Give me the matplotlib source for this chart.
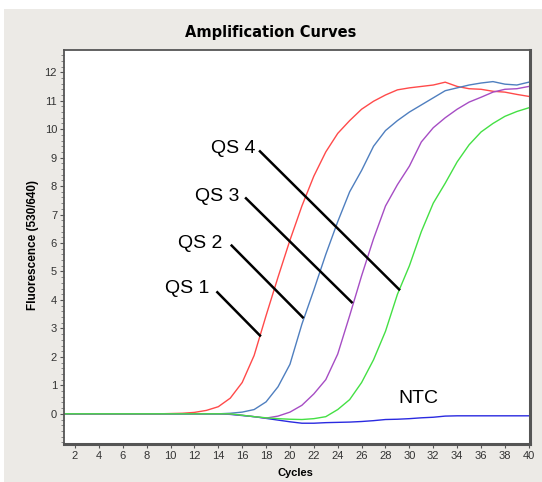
import numpy as np
import matplotlib
matplotlib.use("Agg")
import matplotlib.pyplot as plt
from matplotlib.patches import Rectangle

cycles = np.arange(1, 41)

qs1 = [0, 0, 0, 0, 0, 0, 0, 0, 0, 0.01, 0.02, 0.05, 0.12, 0.25, 0.55, 1.1, 2.05, 3.45, 4.8, 6.1,
       7.3, 8.35, 9.2, 9.85, 10.3, 10.7, 10.98, 11.2, 11.38, 11.45, 11.5, 11.55, 11.65, 11.5, 11.42,
       11.4, 11.33, 11.3, 11.22, 11.15]
qs2 = [0, 0, 0, 0, 0, 0, 0, 0, 0, 0, 0, 0, 0, 0, 0.02, 0.06, 0.15, 0.42, 0.95, 1.74,
       3.15, 4.35, 5.6, 6.75, 7.8, 8.55, 9.4, 9.95, 10.3, 10.6, 10.85, 11.1, 11.35, 11.45, 11.55,
       11.62, 11.67, 11.58, 11.55, 11.65]
qs3 = [0, 0, 0, 0, 0, 0, 0, 0, 0, 0, 0, 0, 0, 0, -0.01, -0.05, -0.1, -0.15, -0.08, 0.06,
       0.3, 0.7, 1.2, 2.1, 3.45, 4.85, 6.15, 7.3, 8.05, 8.7, 9.55, 10.05, 10.4, 10.7, 10.95,
       11.12, 11.3, 11.4, 11.42, 11.5]
qs4 = [0, 0, 0, 0, 0, 0, 0, 0, 0, 0, 0, 0, 0, 0, 0, -0.05, -0.1, -0.14, -0.17, -0.19,
       -0.2, -0.17, -0.1, 0.15, 0.5, 1.1, 1.9, 2.9, 4.2, 5.2, 6.4, 7.4, 8.1, 8.85, 9.45,
       9.9, 10.2, 10.45, 10.62, 10.75]
ntc = [0, 0, 0, 0, 0, 0, 0, 0, 0, 0, 0, 0, 0, 0, -0.02, -0.06, -0.1, -0.16, -0.22, -0.28,
       -0.33, -0.33, -0.31, -0.3, -0.29, -0.27, -0.24, -0.2, -0.19, -0.17, -0.14, -0.12, -0.08, -0.07, -0.07,
       -0.07, -0.07, -0.07, -0.07, -0.07]

labels = ["QS 1", "QS 2", "QS 3", "QS 4"]

bg = "#ECEAE6"
fig = plt.figure(figsize=(5.42, 4.82), dpi=100, facecolor=bg)
# white strip at top and left of the screenshot
fig.patches.append(Rectangle((0, 1 - 9 / 482), 1, 9 / 482, transform=fig.transFigure,
                             facecolor="white", edgecolor="none"))
fig.patches.append(Rectangle((0, 0), 4 / 542, 1, transform=fig.transFigure,
                             facecolor="white", edgecolor="none"))

ax = fig.add_axes([64 / 542, 1 - 444 / 482, 466 / 542, 394 / 482])
ax.set_facecolor("white")

ax.plot(cycles, ntc, color="#2a2ae0", lw=1.0)
ax.plot(cycles, qs1, color="#ff4a4a", lw=1.0)
ax.plot(cycles, qs2, color="#4f7fbf", lw=1.0)
ax.plot(cycles, qs3, color="#a64dc4", lw=1.0)
ax.plot(cycles, qs4, color="#44e044", lw=1.0)

ax.set_xlim(1.08, 40.1)
ax.set_ylim(-1.06, 12.78)
ax.set_xticks(np.arange(2, 41, 2))
ax.set_yticks(np.arange(0, 13, 1))
ax.set_yticks(np.arange(-1, 12.8, 0.2), minor=True)

for s in ax.spines.values():
    s.set_color("#555555")
    s.set_linewidth(1.3)
ax.spines["right"].set_linewidth(2.2)
ax.spines["bottom"].set_linewidth(2.2)

ax.tick_params(axis="both", which="major", direction="out", length=3, width=0.8,
               color="#555555", labelsize=8, pad=2)
ax.tick_params(axis="y", which="minor", direction="out", length=2, width=0.6, color="#777777")
for t in ax.get_xticklabels() + ax.get_yticklabels():
    t.set_fontfamily("Liberation Sans")
    t.set_color("#333333")

# annotation leaders
leaders = [((13.92, 4.27), (17.49, 2.75)),
           ((15.12, 5.91), (21.07, 3.39)),
           ((16.32, 7.57), (25.17, 3.92)),
           ((17.49, 9.22), (29.14, 4.37))]
text_pos = [(13.25, 4.39), (14.37, 5.99), (15.76, 7.63), (17.08, 9.33)]
for lab, (p0, p1), (tx, ty) in zip(labels, leaders, text_pos):
    ax.plot([p0[0], p1[0]], [p0[1], p1[1]], color="black", lw=1.8)
    ax.text(tx, ty, lab, ha="right", va="center", fontsize=14, family="Liberation Sans")
ax.text(30.73, 0.54, "NTC", ha="center", va="center", fontsize=14, family="Liberation Sans")

fig.text(0.5, 1 - 33 / 482, "Amplification Curves", ha="center", va="center",
         fontsize=10.5, fontweight="heavy", family="DejaVu Sans")
fig.text(295 / 542, 1 - 473 / 482, "Cycles", ha="center", va="center",
         fontsize=8, fontweight="bold", family="Liberation Sans")
fig.text(33 / 542, 1 - 245 / 482, "Fluorescence (530/640)", ha="center", va="center",
         rotation=90, fontsize=8.5, fontweight="bold", family="Liberation Sans")

fig.savefig("out.png", dpi=100, facecolor=bg)
